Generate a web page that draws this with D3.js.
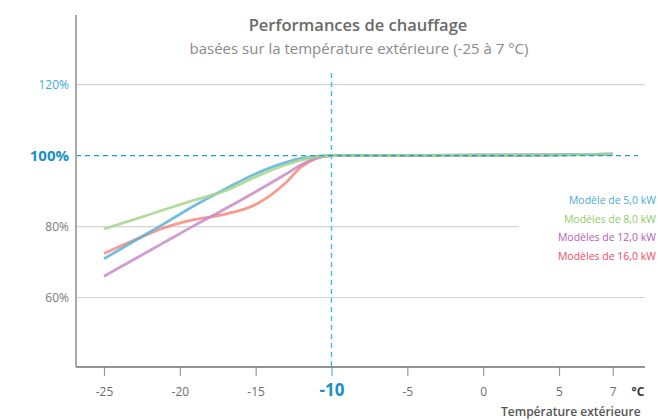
<!DOCTYPE html>
<html>
<head>
<meta charset="utf-8">
<script src="https://cdn.jsdelivr.net/npm/d3@7"></script>
<style>
  html, body { margin: 0; padding: 0; background: #fff; overflow: hidden; }
  svg { display: block; font-family: "Open Sans", sans-serif; }
</style>
</head>
<body>
<svg id="chart" width="658" height="420"></svg>
<script>
// Outdoor temperatures (°C) at which heating capacity is sampled
const temps = [-25, -23, -21, -19, -17, -15, -13, -12, -11, -10, -5, 0, 5, 7];

// Heating capacity (%) per model
const model5  = [70.9, 75.9, 80.9, 86.0, 90.6, 94.9, 98.1, 99.2, 99.8, 100, 100.05, 100.1, 100.2, 100.4];
const model8  = [79.3, 82.0, 84.8, 87.5, 90.1, 94.0, 97.4, 98.7, 99.6, 100, 100.05, 100.1, 100.2, 100.4];
const model12 = [66.0, 70.8, 75.6, 80.4, 85.0, 89.8, 94.8, 97.4, 99.3, 100, 100.05, 100.1, 100.2, 100.4];
const model16 = [72.4, 76.2, 79.7, 82.0, 83.5, 86.2, 92.4, 96.8, 99.2, 100, 100.05, 100.1, 100.2, 100.4];

const seriesNames  = ["Modèle de 5,0 kW", "Modèles de 8,0 kW", "Modèles de 12,0 kW", "Modèles de 16,0 kW"];
const seriesValues = [model5, model8, model12, model16];
const lineColors   = ["#5ab3d8", "#a6d68a", "#c98bc8", "#f58a7a"];
const labelColors  = ["#4ea8d2", "#8fcc62", "#b35cb8", "#ef4a64"];

const xTicks = [-25, -20, -15, -10, -5, 0, 5, 7];
const yTicks = [60, 80, 100, 120];
const referenceTemp = -10;
const referencePct = 100;

const svg = d3.select("#chart");

// The last interval (5 → 7 °C) is drawn compressed, so the scale is piecewise
const x = d3.scaleLinear().domain([-25, 5, 7]).range([104, 559, 612.7]);
const y = d3.scaleLinear().domain([60, 120]).range([297.5, 84.6]);

const axisX = 76, axisTop = 15, axisBottom = 367;

// Titles
svg.append("text")
  .attr("x", 358).attr("y", 31)
  .attr("text-anchor", "middle")
  .attr("font-size", 16.5).attr("font-weight", 600)
  .attr("fill", "#6a6a6a")
  .text("Performances de chauffage");
svg.append("text")
  .attr("x", 359).attr("y", 54)
  .attr("text-anchor", "middle")
  .attr("font-size", 15)
  .attr("fill", "#8a8a8a")
  .text("basées sur la température extérieure (-25 à 7 °C)");

// Horizontal gridlines (100 % is drawn dashed further down)
const gridEnd = { 60: 645, 80: 519, 120: 645 };
svg.append("g").selectAll("line")
  .data(yTicks.filter(d => d !== referencePct))
  .join("line")
  .attr("x1", axisX).attr("x2", d => gridEnd[d])
  .attr("y1", d => y(d)).attr("y2", d => y(d))
  .attr("stroke", "#d4d4d4").attr("stroke-width", 1.2);

// Y tick labels
svg.append("g").selectAll("text")
  .data(yTicks)
  .join("text")
  .attr("x", 69)
  .attr("y", d => y(d))
  .attr("dy", "0.35em")
  .attr("text-anchor", "end")
  .attr("font-size", d => d === referencePct ? 15 : 12)
  .attr("font-weight", d => d === referencePct ? 700 : 400)
  .attr("fill", d => d === referencePct ? "#1b8fc4" : d === 120 ? "#3ea9d8" : "#7a7a7a")
  .text(d => d + "%");

// Vertical reference at -10 °C
svg.append("line")
  .attr("x1", x(referenceTemp)).attr("x2", x(referenceTemp))
  .attr("y1", 73).attr("y2", axisBottom)
  .attr("stroke", "#45bbe8").attr("stroke-width", 1.4)
  .attr("stroke-dasharray", "5,4");

// Capacity curves
const line = d3.line()
  .x((d, i) => x(temps[i]))
  .y(d => y(d))
  .curve(d3.curveMonotoneX);

const drawOrder = [3, 2, 0, 1];
svg.append("g").selectAll("path")
  .data(drawOrder)
  .join("path")
  .attr("d", i => line(seriesValues[i]))
  .attr("fill", "none")
  .attr("stroke", i => lineColors[i])
  .attr("stroke-width", 2.8)
  .attr("stroke-opacity", 0.85)
  .attr("stroke-linecap", "butt");

// 100 % reference line
svg.append("line")
  .attr("x1", axisX).attr("x2", 638)
  .attr("y1", y(referencePct)).attr("y2", y(referencePct))
  .attr("stroke", "#1f9ad4").attr("stroke-width", 1.2)
  .attr("stroke-dasharray", "5,4");

// Axes
svg.append("line")
  .attr("x1", axisX).attr("x2", axisX)
  .attr("y1", axisTop).attr("y2", axisBottom)
  .attr("stroke", "#a8a8a8").attr("stroke-width", 2);

const xAxis = d3.axisBottom(x)
  .tickValues(xTicks)
  .tickSize(9)
  .tickPadding(11)
  .tickFormat(d => d);
const gx = svg.append("g")
  .attr("transform", `translate(0,${axisBottom})`)
  .call(xAxis);
gx.select(".domain").remove();
gx.selectAll(".tick line")
  .attr("stroke", d => d === referenceTemp ? "#45bbe8" : "#9a9a9a")
  .attr("stroke-width", 1.2);
gx.selectAll(".tick text")
  .attr("font-family", "Open Sans, sans-serif")
  .attr("font-size", d => d === referenceTemp ? 17 : 12)
  .attr("font-weight", d => d === referenceTemp ? 700 : 400)
  .attr("fill", d => d === referenceTemp ? "#1b8fc4" : "#6e6e6e")
  .attr("dy", d => d === referenceTemp ? "0.55em" : "0.71em");

svg.append("line")
  .attr("x1", axisX).attr("x2", 645)
  .attr("y1", axisBottom).attr("y2", axisBottom)
  .attr("stroke", "#707070").attr("stroke-width", 1.5);

svg.append("text")
  .attr("x", 638).attr("y", 396)
  .attr("text-anchor", "middle")
  .attr("font-size", 12).attr("font-weight", 700)
  .attr("fill", "#3a3a3a")
  .text("°C");

svg.append("text")
  .attr("x", 501).attr("y", 416)
  .attr("font-size", 12).attr("font-weight", 600)
  .attr("fill", "#555")
  .text("Température extérieure");

// Legend, right-aligned against the edge
const legendY = [204, 223, 241, 260];
svg.append("g").selectAll("text")
  .data(seriesNames)
  .join("text")
  .attr("x", 656)
  .attr("y", (d, i) => legendY[i])
  .attr("text-anchor", "end")
  .attr("font-size", 10.5)
  .attr("fill", (d, i) => labelColors[i])
  .text(d => d);
</script>
</body>
</html>
